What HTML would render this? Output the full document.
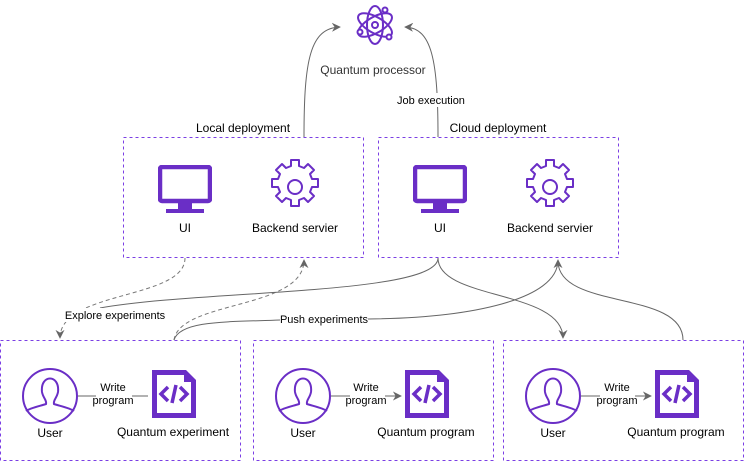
<!DOCTYPE html>
<html><head><meta charset="utf-8"><style>
html,body{margin:0;padding:0;background:#fff;}
svg{display:block;font-family:"Liberation Sans",Arial,sans-serif;}
</style></head><body>
<svg width="744" height="462" viewBox="0 0 744 462" xmlns="http://www.w3.org/2000/svg">
<defs>
<marker id="a" viewBox="0 0 10 10" refX="9" refY="5" markerWidth="9" markerHeight="9" orient="auto" markerUnits="userSpaceOnUse"><path d="M0,0 L10,5 L0,10 L3,5 z" fill="#666"/></marker>
<symbol id="mon" viewBox="0 0 54 50"><rect x="2" y="2" width="50" height="34" rx="2" fill="none" stroke="#6a2ec6" stroke-width="4.5"/><rect x="20" y="38" width="14" height="6" fill="#6a2ec6"/><rect x="8" y="44" width="38" height="4" fill="#6a2ec6"/></symbol>
<symbol id="gear" viewBox="-28 -28 56 56"><path d="M-4,-27 h8 v6 l5,2 4,-4 6,6 -4,4 2,5 h6 v8 h-6 l-2,5 4,4 -6,6 -4,-4 -5,2 v6 h-8 v-6 l-5,-2 -4,4 -6,-6 4,-4 -2,-5 h-6 v-8 h6 l2,-5 -4,-4 6,-6 4,4 5,-2 z" fill="none" stroke="#6a2ec6" stroke-width="2" stroke-linejoin="round"/><circle r="7" fill="none" stroke="#6a2ec6" stroke-width="2"/></symbol>
<symbol id="user" viewBox="-28 -28 56 56"><circle r="27" fill="none" stroke="#6a2ec6" stroke-width="2"/><path d="M-8,-4 C-10,-22 10,-22 8,-4 C7,2 3,4 4,8 C10,10 20,12 24,15 M-8,-4 C-7,2 -3,4 -4,8 C-10,10 -20,12 -24,15" fill="none" stroke="#6a2ec6" stroke-width="2"/></symbol>
<symbol id="file" viewBox="0 0 48 52"><path d="M2,2 H36 L46,12 V50 H2 Z" fill="#6a2ec6"/><path d="M7,7 H34 V14 H41 V45 H7 Z" fill="#fff"/><path d="M18,19 L11,26 L18,33 M30,19 L37,26 L30,33 M26,17 L22,35" fill="none" stroke="#6a2ec6" stroke-width="3.5"/></symbol>
</defs>
<g transform="translate(375,25)" fill="none" stroke="#6a2ec6" stroke-width="2">
<ellipse rx="8" ry="19"/><ellipse rx="8" ry="19" transform="rotate(60)"/><ellipse rx="8" ry="19" transform="rotate(-60)"/>
<circle r="3"/><circle cx="-15" cy="7" r="2.5" fill="#fff"/><circle cx="10" cy="-15" r="2.5" fill="#fff"/><circle cx="14" cy="12" r="2.5" fill="#fff"/>
</g>
<text x="373" y="74" font-size="12" fill="#333" text-anchor="middle">Quantum processor</text>
<g fill="none" stroke="#7b3fe4" stroke-dasharray="3,3" stroke-width="1">
<rect x="123.5" y="137.5" width="240" height="120"/>
<rect x="378.5" y="137.5" width="240" height="120"/>
<rect x="0.5" y="340.5" width="240" height="120"/>
<rect x="253.5" y="340.5" width="240" height="120"/>
<rect x="503.5" y="340.5" width="240" height="120"/>
</g>
<g font-size="12" fill="#000" text-anchor="middle">
<text x="243" y="132">Local deployment</text>
<text x="498" y="132">Cloud deployment</text>
<text x="185" y="232">UI</text><text x="295" y="232">Backend servier</text>
<text x="440" y="232">UI</text><text x="550" y="232">Backend servier</text>
<text x="50" y="437">User</text><text x="173" y="436">Quantum experiment</text>
<text x="303" y="437">User</text><text x="426" y="436">Quantum program</text>
<text x="553" y="437">User</text><text x="676" y="436">Quantum program</text>
</g>
<use href="#mon" x="158" y="165" width="54" height="50"/>
<use href="#mon" x="413" y="165" width="54" height="50"/>
<use href="#gear" x="267" y="159" width="56" height="56"/>
<use href="#gear" x="522" y="159" width="56" height="56"/>
<use href="#user" x="22" y="368" width="56" height="56"/>
<use href="#user" x="275" y="368" width="56" height="56"/>
<use href="#user" x="525" y="368" width="56" height="56"/>
<use href="#file" x="150" y="368" width="48" height="52"/>
<use href="#file" x="403" y="368" width="48" height="52"/>
<use href="#file" x="653" y="368" width="48" height="52"/>
<g fill="none" stroke="#666" stroke-width="1">
<path d="M304,137 C304,60 310,28 340,27" marker-end="url(#a)"/>
<path d="M438,137 C438,60 432,28 405,27" marker-end="url(#a)"/>
<path d="M185,258 C185,300 60,290 60,338" stroke-dasharray="4,3" stroke="#777" marker-end="url(#a)"/>
<path d="M174,340 C180,300 304,310 304,260" stroke-dasharray="4,3" stroke="#777" marker-end="url(#a)"/>
<path d="M438,258 C438,295 200,290 100,308"/>
<path d="M174,340 C180,320 230,322 280,320 M368,319 C470,318 558,300 558,260" marker-end="url(#a)"/>
<path d="M438,258 C438,300 563,290 563,338" marker-end="url(#a)"/>
<path d="M683,340 C683,290 560,310 558,262"/>
<path d="M78,396 H96 M132,396 H148"/>
<path d="M331,396 H350 M385,396 H401" marker-end="url(#a)"/>
<path d="M581,396 H600 M635,396 H651" marker-end="url(#a)"/>
</g>
<g font-size="11" fill="#000" text-anchor="middle">
<rect x="385" y="93" width="90" height="14" fill="#fff"/>
<text x="431" y="104">Job execution</text>
<rect x="64" y="308" width="102" height="14" fill="#fff"/>
<text x="115" y="319">Explore experiments</text>
<text x="324" y="323">Push experiments</text>
<text x="113" y="391">Write</text><text x="113" y="404">program</text>
<text x="366" y="391">Write</text><text x="366" y="404">program</text>
<text x="617" y="391">Write</text><text x="617" y="404">program</text>
</g>
</svg>
</body></html>
